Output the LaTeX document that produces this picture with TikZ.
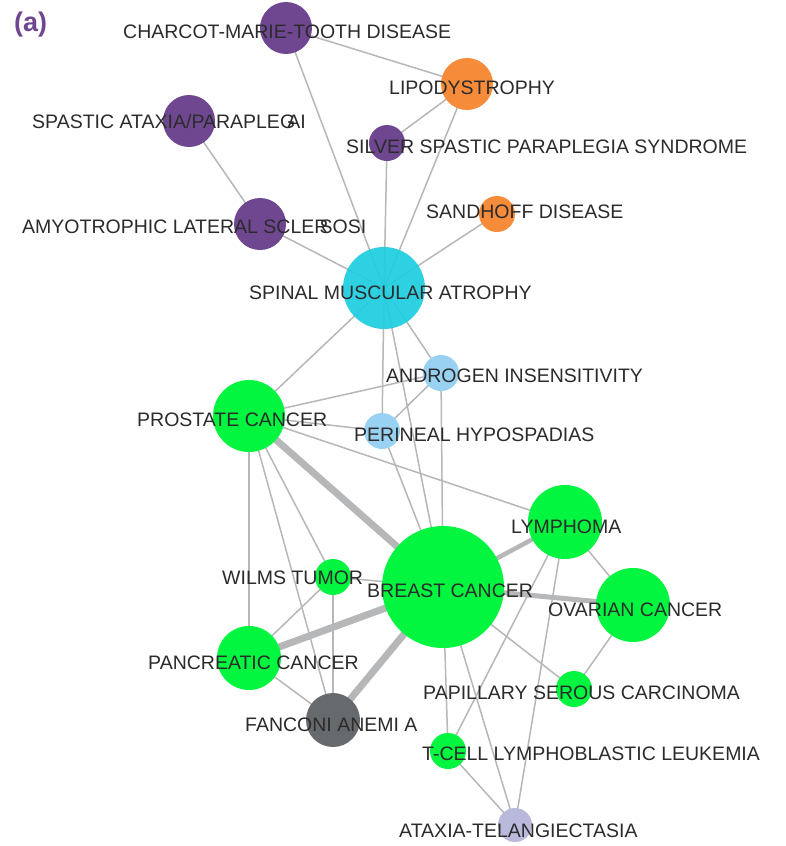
\documentclass[tikz,border=0pt]{standalone}
\usepackage{fontspec}
\setmainfont{Liberation Sans}
\usepackage{tikz}
\usetikzlibrary{backgrounds}
\definecolor{dpurple}{HTML}{6F4791}
\definecolor{dorange}{HTML}{F68B3A}
\definecolor{dcyan}{HTML}{1ECEE0}
\definecolor{dblue}{HTML}{98D1F2}
\definecolor{dgreen}{HTML}{02F640}
\definecolor{dgray}{HTML}{676A6D}
\definecolor{dlav}{HTML}{B8B9DB}
\definecolor{edgegray}{HTML}{B6B7B9}
\definecolor{txt}{HTML}{2B2B2B}
\tikzset{
	dot/.style={circle, inner sep=0pt, draw=none, minimum size=2*#1},
	lbl/.style={anchor=base west, inner sep=0pt, text=txt, font={\fontsize{19.5}{20}\selectfont}},
	edge/.style={draw=edgegray, line width=1.5pt},
	heavy/.style={draw=edgegray, line width=#1}
}

\begin{document}
\begin{tikzpicture}[x=1pt, y=-1pt]
		%%%%% START %%%%%
		\useasboundingbox (0,0) rectangle (786,846);
		
		% diseases
		\node[dot=26, fill=dpurple] (cmt) at (286,28) {};
		\node[dot=26, fill=dorange] (lipo) at (467,84) {};
		\node[dot=18, fill=dpurple] (silver) at (387,143) {};
		\node[dot=18, fill=dorange] (sandhoff) at (497,214) {};
		\node[dot=26, fill=dpurple] (spastic) at (189,121) {};
		\node[dot=26, fill=dpurple] (als) at (260,224) {};
		\node[dot=41, fill=dcyan, fill opacity=.93] (sma) at (384,288) {};
		\node[dot=18, fill=dblue] (androgen) at (441,373) {};
		\node[dot=18, fill=dblue] (perineal) at (382,431) {};
		\node[dot=36, fill=dgreen] (prostate) at (249,416) {};
		\node[dot=61, fill=dgreen] (breast) at (443,587) {};
		\node[dot=37, fill=dgreen] (lymphoma) at (565,522) {};
		\node[dot=37, fill=dgreen] (ovarian) at (633,605) {};
		\node[dot=18, fill=dgreen] (wilms) at (333,577) {};
		\node[dot=32, fill=dgreen] (pancreatic) at (249,658) {};
		\node[dot=18, fill=dgreen] (papillary) at (574,689) {};
		\node[dot=27, fill=dgray] (fanconi) at (333,720) {};
		\node[dot=18, fill=dgreen] (tcell) at (448,751) {};
		\node[dot=17, fill=dlav] (ataxia) at (515,825) {};
		
		% links
		\begin{scope}[on background layer]
		\fill[white] (0,0) rectangle (786,846);
		\draw[edge] (cmt.center) -- (lipo.center);
		\draw[edge] (cmt.center) -- (sma.center);
		\draw[edge] (spastic.center) -- (als.center);
		\draw[edge] (als.center) -- (sma.center);
		\draw[edge] (silver.center) -- (lipo.center);
		\draw[edge] (silver.center) -- (sma.center);
		\draw[edge] (lipo.center) -- (sma.center);
		\draw[edge] (sandhoff.center) -- (sma.center);
		\draw[edge] (sma.center) -- (prostate.center);
		\draw[edge] (sma.center) -- (perineal.center);
		\draw[edge] (sma.center) -- (androgen.center);
		\draw[edge] (sma.center) -- (breast.center);
		\draw[edge] (androgen.center) -- (perineal.center);
		\draw[edge] (androgen.center) -- (breast.center);
		\draw[edge] (perineal.center) -- (breast.center);
		\draw[edge] (prostate.center) -- (androgen.center);
		\draw[edge] (prostate.center) -- (perineal.center);
		\draw[edge] (prostate.center) -- (lymphoma.center);
		\draw[edge] (prostate.center) -- (pancreatic.center);
		\draw[edge] (prostate.center) -- (fanconi.center);
		\draw[edge] (prostate.center) -- (wilms.center);
		\draw[edge] (wilms.center) -- (breast.center);
		\draw[edge] (wilms.center) -- (pancreatic.center);
		\draw[edge] (wilms.center) -- (fanconi.center);
		\draw[edge] (pancreatic.center) -- (fanconi.center);
		\draw[edge] (lymphoma.center) -- (ovarian.center);
		\draw[edge] (lymphoma.center) -- (tcell.center);
		\draw[edge] (lymphoma.center) -- (ataxia.center);
		\draw[edge] (breast.center) -- (papillary.center);
		\draw[edge] (ovarian.center) -- (papillary.center);
		\draw[edge] (breast.center) -- (tcell.center);
		\draw[edge] (breast.center) -- (ataxia.center);
		\draw[edge] (tcell.center) -- (ataxia.center);
		\draw[heavy=7pt] (prostate.center) -- (breast.center);
		\draw[heavy=7pt] (pancreatic.center) -- (breast.center);
		\draw[heavy=7pt] (fanconi.center) -- (breast.center);
		\draw[heavy=5pt] (breast.center) -- (ovarian.center);
		\draw[heavy=4.5pt] (breast.center) -- (lymphoma.center);
		\end{scope}
		
		% names
		\node[lbl] (cmt-t) at (123,38) {CHARCOT-MARIE-TOOTH DISEASE};
		\node[lbl] (lipo-t) at (389,94) {LIPODYSTROPHY};
		\node[lbl] (silver-t) at (346,153) {SILVER SPASTIC PARAPLEGIA SYNDROME};
		\node[lbl] (sandhoff-t) at (426,218) {SANDHOFF DISEASE};
		\node[lbl] (spastic-t) at (32,128) {SPASTIC ATAXIA/PARAPLEG\kern-.4em AI};
		\node[lbl] (als-t) at (22,233) {AMYOTROPHIC LATERAL SCLER\kern-.45em SOSI};
		\node[lbl] (sma-t) at (249,299) {SPINAL MUSCULAR ATROPHY};
		\node[lbl] (androgen-t) at (386,382) {ANDROGEN INSENSITIVITY};
		\node[lbl] (perineal-t) at (354,441) {PERINEAL HYPOSPADIAS};
		\node[lbl] (prostate-t) at (137,426) {PROSTATE CANCER};
		\node[lbl] (lymphoma-t) at (511,533) {LYMPHOMA};
		\node[lbl] (breast-t) at (367,597) {BREAST CANCER};
		\node[lbl] (wilms-t) at (222,584) {WILMS TUMOR};
		\node[lbl] (ovarian-t) at (548,616) {OVARIAN CANCER};
		\node[lbl] (pancreatic-t) at (148,669) {PANCREATIC CANCER};
		\node[lbl] (papillary-t) at (423,699) {PAPILLARY SEROUS CARCINOMA};
		\node[lbl] (fanconi-t) at (245,731) {FANCONI ANEMI A};
		\node[lbl] (tcell-t) at (422,760) {T-CELL LYMPHOBLASTIC LEUKEMIA};
		\node[lbl] (ataxia-t) at (399,837) {ATAXIA-TELANGIECTASIA};
		
		\node[anchor=base west, inner sep=0pt, text=dpurple, font={\bfseries\fontsize{27}{27}\selectfont}] (panel) at (14,31) {(a)};
		%%%%% END %%%%%
	\end{tikzpicture}
\end{document}
